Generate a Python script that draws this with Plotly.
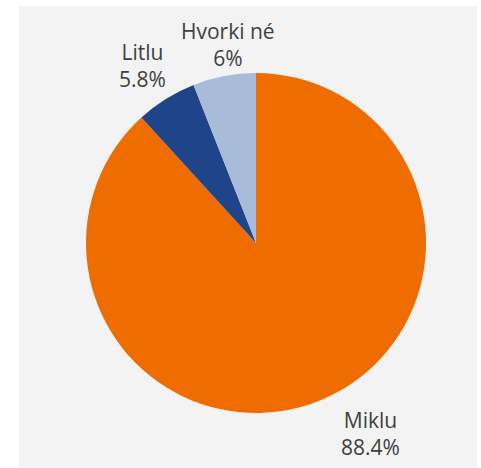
import plotly.graph_objects as go

# slice data (clockwise from 12 o'clock)
categories = ["Miklu", "Litlu", "Hvorki né"]
shares = [88.4, 5.8, 6.0]
share_labels = ["88.4%", "5.8%", "6%"]
colors = ["#EF6C00", "#1F4489", "#A8BBD8"]

W, H = 481, 468

# label anchor points in pixels (x, y from top)
label_pos = [(370, 433), (142, 66), (228, 45)]

fig = go.Figure()

fig.add_trace(go.Pie(
    labels=categories,
    values=shares,
    sort=False,
    direction="clockwise",
    rotation=0,
    marker=dict(colors=colors, line=dict(width=0)),
    textinfo="none",
    hoverinfo="label+percent",
    showlegend=False,
    domain=dict(x=[86 / W, 426 / W], y=[1 - 413 / H, 1 - 73 / H]),
))

# light grey panel behind the pie
fig.add_shape(
    type="rect", xref="paper", yref="paper",
    x0=19 / W, x1=477 / W, y0=0, y1=1 - 6 / H,
    fillcolor="#F3F3F3", line=dict(width=0), layer="below",
)

for name, lab, (px, py) in zip(categories, share_labels, label_pos):
    fig.add_annotation(
        x=px / W, y=1 - py / H, xref="paper", yref="paper",
        text=f"{name}<br>{lab}",
        showarrow=False, xanchor="center", yanchor="middle",
        font=dict(family="Open Sans", size=21, color="#404040"),
    )

fig.update_layout(
    width=W, height=H,
    margin=dict(l=0, r=0, t=0, b=0),
    paper_bgcolor="white",
    plot_bgcolor="white",
)

# drop the default page margin so the figure sits at the window corner
fig.write_html(
    "out.html",
    config={"displayModeBar": False},
    post_script="document.body.style.margin='0';",
)
